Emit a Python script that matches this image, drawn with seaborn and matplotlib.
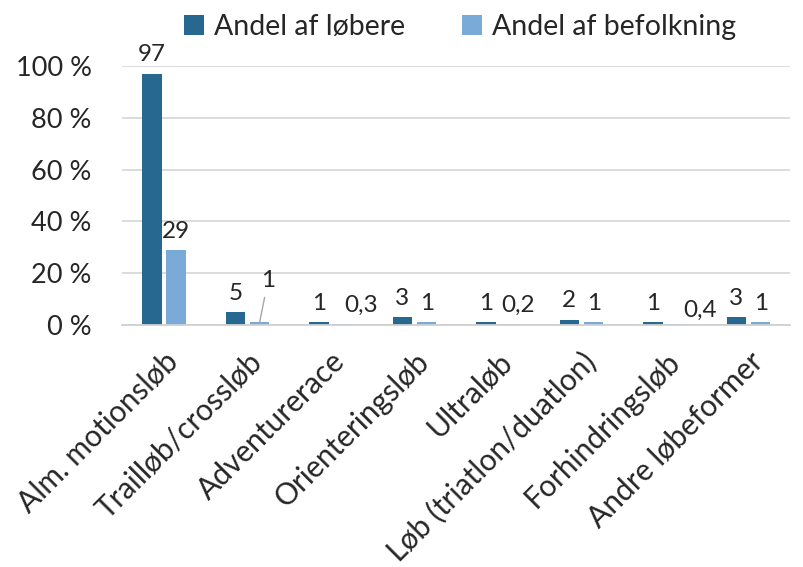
import numpy as np
import pandas as pd
import seaborn as sns
import matplotlib
import matplotlib.pyplot as plt

matplotlib.use('Agg')

categories = ["Alm. motionsløb", "Trailløb/crossløb", "Adventurerace", "Orienteringsløb",
              "Ultraløb", "Løb (triatlon/duatlon)", "Forhindringsløb", "Andre løbeformer"]
runners = [97, 5, 1, 3, 1, 2, 1, 3]
population = [29, 1, 0.3, 1, 0.2, 1, 0.4, 1]
runner_labels = ["97", "5", "1", "3", "1", "2", "1", "3"]
population_labels = ["29", "1", "0,3", "1", "0,2", "1", "0,4", "1"]
series_names = ["Andel af løbere", "Andel af befolkning"]
yticks = [0, 20, 40, 60, 80, 100]

dark = "#266890"
light = "#7AAAD8"

df = pd.DataFrame({
    "cat": categories * 2,
    "val": runners + population,
    "serie": [series_names[0]] * len(categories) + [series_names[1]] * len(categories),
})

sns.set_theme(style="white")
plt.rcParams['font.family'] = ['Lato', 'DejaVu Sans']

fig = plt.figure(figsize=(8.04, 5.67), dpi=100)
ax = fig.add_axes([0.152, 0.4268, 0.831, 0.4568])

sns.barplot(data=df, x="cat", y="val", hue="serie", palette=[dark, light],
            width=0.58, gap=0.2, ax=ax, legend=True, saturation=1,
            linewidth=0, edgecolor="none")

ax.set_ylim(0, 100)
ax.set_yticks(yticks)
ax.set_yticklabels([f"{t} %" for t in yticks], fontsize=19.5)
ax.yaxis.grid(True, color="#D9D9D9", linewidth=1.3)
ax.set_axisbelow(True)
ax.set_xlabel("")
ax.set_ylabel("")
for s in ["top", "right", "left"]:
    ax.spines[s].set_visible(False)
ax.spines["bottom"].set_color("#D0D0D0")
ax.spines["bottom"].set_linewidth(1.3)
ax.tick_params(axis="y", length=0, pad=22)
ax.tick_params(axis="x", length=0, pad=16)
ax.set_xticks(range(len(categories)))
ax.set_xticklabels(categories, rotation=45, ha="right", rotation_mode="anchor", fontsize=21.5)

# value labels (small manual nudges where the original had them moved)
nudge = {2: (0.22, 0), 4: (0.1, 0), 6: (0.27, -4)}
off = 0.145
for i, (v, lab) in enumerate(zip(runners, runner_labels)):
    ax.annotate(lab, (i - off, v), xytext=(0, 6), textcoords="offset points",
                ha="center", va="bottom", fontsize=17.5)
for i, (v, lab) in enumerate(zip(population, population_labels)):
    if i == 1:
        ax.annotate(lab, (i + off, v), xytext=(i + off + 0.1, 13), textcoords="data",
                    ha="center", va="bottom", fontsize=17.5,
                    arrowprops=dict(arrowstyle="-", color="#A6A6A6", lw=1,
                                    shrinkA=2, shrinkB=0))
        continue
    dx, dy = nudge.get(i, (0, 0))
    ax.annotate(lab, (i + off + dx, v), xytext=(0, 6 + dy), textcoords="offset points",
                ha="center", va="bottom", fontsize=17.5)

handles, labels = ax.get_legend_handles_labels()
ax.get_legend().remove()
fig.legend(handles, labels, loc="center", bbox_to_anchor=(0.572, 0.952), ncol=2,
           frameon=False, fontsize=20.5, handlelength=0.7, handleheight=0.7,
           handletextpad=0.35, columnspacing=2.0)

fig.savefig("out.png", dpi=100)
